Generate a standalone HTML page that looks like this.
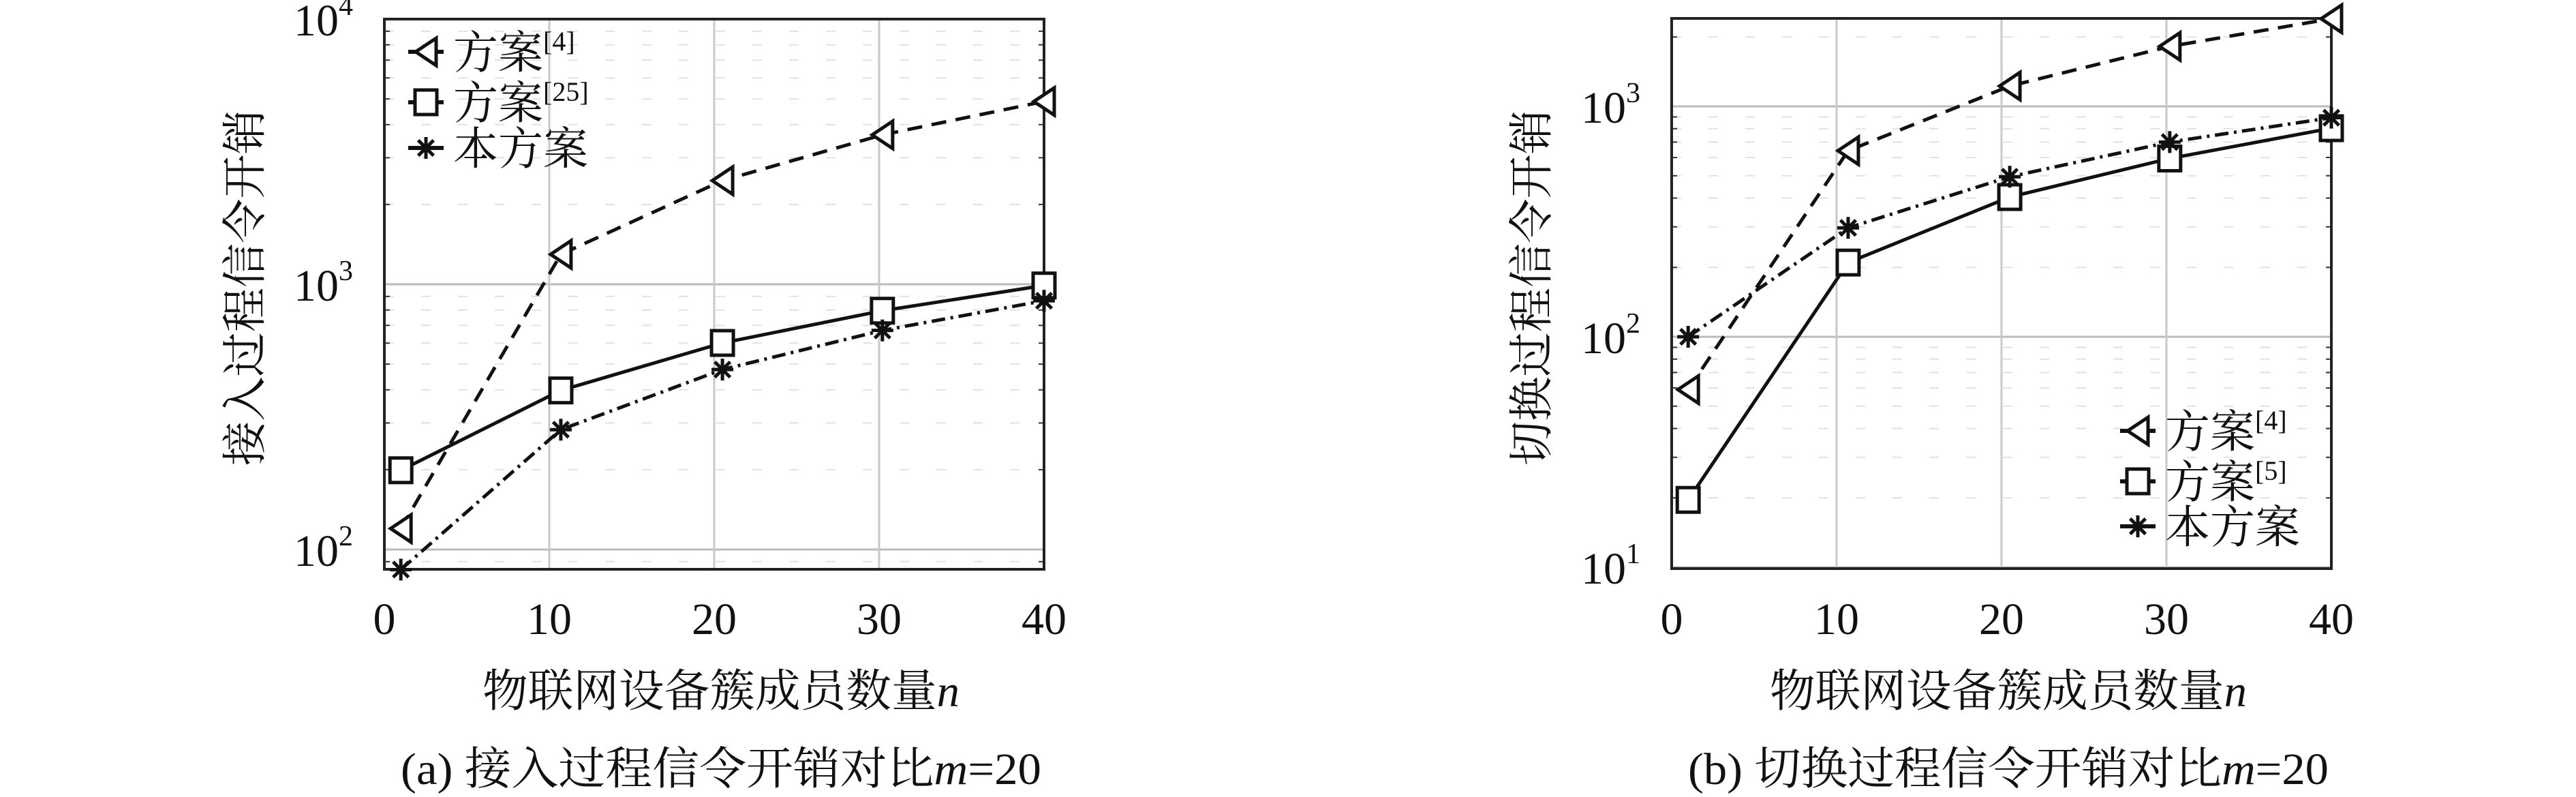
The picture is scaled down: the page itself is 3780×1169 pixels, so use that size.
<!DOCTYPE html>
<html><head><meta charset="utf-8"><style>
html,body{margin:0;padding:0;background:#fff;}
svg{display:block;}
text{font-family:"Liberation Serif","Noto Serif CJK SC",serif;fill:#111;}
</style></head><body>
<svg id="fig" width="3780" height="1169" viewBox="0 0 3780 1169" xmlns="http://www.w3.org/2000/svg"></svg>
<script>
// ---- data ----
const xValues = [1, 10.7, 20.5, 30.2, 40];
const xTicks = [0, 10, 20, 30, 40];
const accessRef4 = [120, 1297, 2460, 3660, 4890];
const accessRef25 = [199, 398, 601, 795, 990];
const accessOurs = [84, 283, 477, 670, 867];
const handoverRef4 = [59, 642, 1225, 1820, 2400];
const handoverRef5 = [19.6, 210, 404, 594, 804];
const handoverOurs = [100, 297, 495, 700, 893];
const accessYTicks = [2, 3, 4];
const handoverYTicks = [1, 2, 3];

const NS = "http://www.w3.org/2000/svg";
const fig = document.getElementById('fig');
function mk(tag, attrs, parent) {
  const e = document.createElementNS(NS, tag);
  for (const k in attrs) e.setAttribute(k, attrs[k]);
  (parent || fig).appendChild(e);
  return e;
}

function panel(opt) {
  const g = mk('g', {});
  
  
  const L = opt.left, R = opt.right, T = opt.top, B = opt.bottom;
  const xs = v => L + (v - 0) / 40 * (R - L);
  const ys = v => opt.y0 + (opt.lmin - Math.log10(v)) * opt.dec;
  const lmax = opt.lmin + (opt.y0 - T) / opt.dec;
  const lbot = opt.lmin - (B - opt.y0) / opt.dec;
  for (let d = Math.floor(lbot); d < lmax; d++) {
    for (let m = 2; m <= 9; m++) {
      const lv = d + Math.log10(m);
      if (lv < lbot || lv > lmax) continue;
      const y = ys(Math.pow(10, lv));
      const l = mk('line', {x1: L, x2: R, y1: y, y2: y, stroke: '#e2e2e2', 'stroke-width': 2, 'stroke-dasharray': '14 40'}, g);
      
      
      mk('line', {x1: L, x2: L + 8, y1: y, y2: y, stroke: '#333', 'stroke-width': 2}, g);
      mk('line', {x1: R - 8, x2: R, y1: y, y2: y, stroke: '#333', 'stroke-width': 2}, g);
    }
  }
  opt.yTicks.forEach(p => {
    const y = ys(Math.pow(10, p));
    const l = mk('line', {x1: L, x2: R, y1: y, y2: y, stroke: '#bbb', 'stroke-width': 3}, g);
    
    
    const t = mk('text', {x: L - 46, y: y + 24, 'text-anchor': 'end', 'font-size': 66}, g);
    
    
    t.textContent = '10';
    const s = mk('tspan', {dy: -30, 'font-size': 42}, t);
    s.textContent = String(p);
  });
  xTicks.forEach(v => {
    const x = xs(v);
    const l = mk('line', {x1: x, x2: x, y1: T, y2: B, stroke: '#c8c8c8', 'stroke-width': 3}, g);
    
    
    const t = mk('text', {x: x, y: 930, 'text-anchor': 'middle', 'font-size': 66}, g);
    
    
    t.textContent = String(v);
  });
  const frame = mk('rect', {x: L, y: T, width: R - L, height: B - T, fill: 'none', stroke: '#222', 'stroke-width': 4}, g);
  
  
  const styles = [
    {dash: '22 14', marker: 'tri'},
    {dash: '', marker: 'sq'},
    {dash: '20 8 4 8', marker: 'star'}
  ];
  opt.series.forEach((vals, i) => {
    const pts = vals.map((v, j) => [xs(xValues[j]), ys(v)]);
    const pl = mk('polyline', {points: pts.map(p => p.join(',')).join(' '), fill: 'none', stroke: '#111', 'stroke-width': 5, 'stroke-dasharray': styles[i].dash}, g);
    
    
    pts.forEach(p => {
      const m = marker(styles[i].marker, p[0], p[1], g);
      
      
    });
  });
  const lg = mk('g', {}, g);
  
  
  opt.legend.forEach((lab, i) => {
    const y = opt.legY[i];
    const e = mk('g', {}, lg);
    
    
    mk('line', {x1: opt.legX - 26, x2: opt.legX + 26, y1: y, y2: y, stroke: '#111', 'stroke-width': 6}, e);
    marker(styles[i].marker, opt.legX, y, e);
    const t = mk('text', {x: opt.legX + 40, y: y + 24, 'font-size': 66}, e);
    t.textContent = lab[0];
    if (lab[1]) {
      const s = mk('tspan', {dy: -26, 'font-size': 40}, t);
      s.textContent = lab[1];
    }
  });
  const cx = (L + R) / 2;
  const xt = mk('text', {x: cx + 10, y: 1036, 'text-anchor': 'middle', 'font-size': 66, textLength: 700, lengthAdjust: 'spacingAndGlyphs'}, g);
  
  
  xt.textContent = '物联网设备簇成员数量';
  const it = mk('tspan', {'font-style': 'italic'}, xt);
  it.textContent = 'n';
  const yt = mk('text', {x: 0, y: 0, 'text-anchor': 'middle', 'font-size': 66, textLength: 522, lengthAdjust: 'spacingAndGlyphs', transform: 'translate(' + (opt.ytX) + ',422) rotate(-90)'}, g);
  
  
  yt.textContent = opt.ytitle;
  const cap = mk('text', {x: cx + 10, y: 1150, 'text-anchor': 'middle', 'font-size': 66, textLength: 940, lengthAdjust: 'spacingAndGlyphs'}, g);
  
  
  cap.textContent = opt.caption;
  const ci = mk('tspan', {'font-style': 'italic'}, cap);
  ci.textContent = 'm';
  const c2 = mk('tspan', {}, cap);
  c2.textContent = '=20';
}

function marker(type, x, y, parent) {
  const sw = 5;
  if (type === 'tri') {
    return mk('polygon', {points: [[x - 15, y], [x + 15, y - 20], [x + 15, y + 20]].map(p => p.join(',')).join(' '), fill: '#fff', stroke: '#111', 'stroke-width': sw}, parent);
  }
  if (type === 'sq') {
    return mk('rect', {x: x - 16, y: y - 18, width: 32, height: 36, fill: '#fff', stroke: '#111', 'stroke-width': sw}, parent);
  }
  const g = mk('g', {stroke: '#111', 'stroke-width': 5}, parent);
  for (let a = 0; a < 4; a++) {
    const ang = a * Math.PI / 4;
    mk('line', {x1: x - 16 * Math.cos(ang), y1: y - 16 * Math.sin(ang), x2: x + 16 * Math.cos(ang), y2: y + 16 * Math.sin(ang)}, g);
  }
  return g;
}

panel({
  name: 'access-chart', left: 564, right: 1532, top: 28, bottom: 835,
  y0: 806, lmin: 2, dec: 389, yTicks: accessYTicks,
  series: [accessRef4, accessRef25, accessOurs],
  seriesNames: ['scheme-4', 'scheme-25', 'proposed-scheme'],
  legend: [['方案', '[4]'], ['方案', '[25]'], ['本方案', '']],
  legX: 625, legY: [76, 150, 217],
  ytX: 382, ytitle: '接入过程信令开销', caption: '(a) 接入过程信令开销对比'
});
panel({
  name: 'handover-chart', left: 2453, right: 3421, top: 27, bottom: 834,
  y0: 832, lmin: 1, dec: 338, yTicks: handoverYTicks,
  series: [handoverRef4, handoverRef5, handoverOurs],
  seriesNames: ['scheme-4', 'scheme-5', 'proposed-scheme'],
  legend: [['方案', '[4]'], ['方案', '[5]'], ['本方案', '']],
  legX: 3137, legY: [632, 706, 772],
  ytX: 2270, ytitle: '切换过程信令开销', caption: '(b) 切换过程信令开销对比'
});
</script>
</body></html>
